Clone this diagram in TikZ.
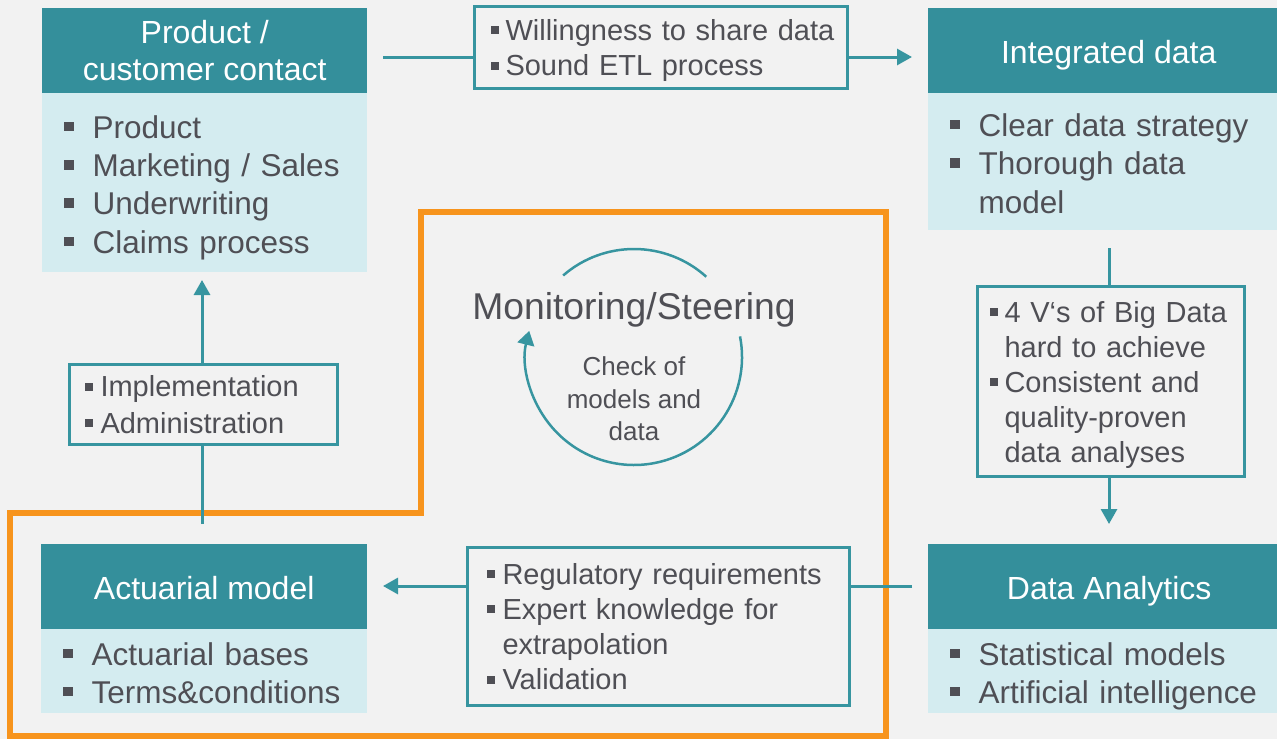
\documentclass[tikz,border=0pt]{standalone}
\usepackage{fontspec}
\setmainfont{Liberation Sans}
\usetikzlibrary{arrows.meta}
\definecolor{bg}{HTML}{F2F2F2}
\definecolor{tealh}{HTML}{348F9B}
\definecolor{lightc}{HTML}{D4ECF0}
\definecolor{tline}{HTML}{3795A0}
\definecolor{txt}{HTML}{4F4F55}
\definecolor{orng}{HTML}{F7941D}
\newcommand{\bbul}{\makebox[28.5pt][l]{\raisebox{7pt}{\rule{9.5pt}{9.5pt}}}}
\newcommand{\bi}[1]{\mbox{\bbul#1}}
\newcommand{\bcont}[1]{\mbox{\hspace*{28.5pt}#1}}
\newcommand{\sbul}[1]{\makebox[#1][l]{\raisebox{6pt}{\rule{8pt}{8pt}}}}
\newcommand{\topst}[1]{\rule{0pt}{#1}}
\newcommand{\botst}[1]{\rule[-#1]{0pt}{0pt}}
\begin{document}
\begin{tikzpicture}[x=1pt,y=1pt,
  head/.style={fill=tealh, text=white, font=\fontsize{32}{37}\selectfont, align=center,
    inner sep=0pt, minimum height=85pt, anchor=north west},
  body/.style={fill=lightc, text=txt, font=\fontsize{31.5}{38.3}\selectfont, align=left,
    inner xsep=22pt, inner ysep=0pt, anchor=north west},
  sbox/.style={draw=tline, line width=3pt, fill=bg, text=txt, font=\fontsize{29}{35.2}\selectfont,
    align=left, inner ysep=0pt, anchor=north west},
  conn/.style={draw=tline, line width=3pt},
  arr/.style={conn, -{Triangle[length=15pt,width=16pt]}},
  plain/.style={text=txt, align=center, inner sep=0pt}]
\useasboundingbox (0,0) rectangle (1277,-739);
\fill[bg] (0,0) rectangle (1277,-739);

% big boxes
\node[head, minimum width=325pt] (ph) at (42,-8) {Product /\\customer contact};
\node[body, minimum height=179pt, text width=281pt] (pb) at (42,-93)
  {\topst{33pt}\bi{Product}\\\bi{Marketing / Sales}\\\bi{Underwriting}\\\bi{Claims process}\botst{7pt}};

\node[head, minimum width=349pt] (ih) at (928,-8) {\hspace*{12pt}\topst{33pt}Integrated data\botst{7pt}};
\node[body, minimum height=137pt, text width=305pt] (ib) at (928,-93)
  {\topst{33pt}\bi{Clear data strategy}\\\bi{Thorough data}\\\bcont{model}\botst{7pt}};

\node[head, minimum width=349pt] (dh) at (928,-544) {\hspace*{13pt}\topst{33pt}Data Analytics\botst{7pt}};
\node[body, minimum height=84pt, text width=305pt] (db) at (928,-629)
  {\topst{33pt}\bi{Statistical models}\\\bi{Artificial intelligence}\botst{7pt}};

\node[head, minimum width=326pt] (ah) at (41,-544) {\topst{33pt}Actuarial model\botst{7pt}};
\node[body, minimum height=84pt, text width=282pt] (ab) at (41,-629)
  {\topst{33pt}\bi{Actuarial bases}\\\bi{Terms\&conditions}\botst{7pt}};

% small boxes
\node[sbox, minimum width=373pt, minimum height=82pt, inner xsep=16pt, text width=341pt] (ws) at (473,-5)
  {\topst{27pt}\mbox{\sbul{15pt}Willingness to share data}\\\mbox{\sbul{15pt}Sound ETL process}\botst{6pt}};
\node[sbox, minimum width=267pt, minimum height=190pt, inner xsep=12pt, text width=243pt] (vb) at (976,-285)
  {\topst{28pt}\mbox{\sbul{15pt}4 V‘s of Big Data}\\\mbox{\hspace*{15pt}hard to achieve}\\\mbox{\sbul{15pt}Consistent and}\\\mbox{\hspace*{15pt}quality-proven}\\\mbox{\hspace*{15pt}data analyses}\botst{6pt}};
\node[sbox, minimum width=382pt, minimum height=158pt, inner xsep=19pt, text width=344pt] (rr) at (466,-546)
  {\mbox{\sbul{16pt}Regulatory requirements}\\\mbox{\sbul{16pt}Expert knowledge for}\\\mbox{\hspace*{16pt}extrapolation}\\\mbox{\sbul{16pt}Validation}};
\node[sbox, minimum width=268pt, minimum height=80pt, inner xsep=15pt, text width=238pt,
  font=\fontsize{29}{36.5}\selectfont] (im) at (68,-363)
  {\mbox{\sbul{16pt}Implementation}\\\mbox{\sbul{16pt}Administration}};

% orange frame
\draw[orng, line width=6pt, line join=miter] (421,-212) -- (886,-212) -- (886,-736) -- (10,-736) -- (10,-513) -- (421,-513) -- cycle;

% monitoring cycle
\coordinate (mc) at (634,-357);
\draw[conn, line width=2.5pt] (mc) ++(48:108) arc[start angle=48, end angle=131, radius=108];
\draw[conn, line width=2.5pt, -{Triangle[length=14pt,width=17pt]}] (mc) ++(11:108) arc[start angle=11, end angle=-194, radius=108];
\node[plain, font=\fontsize{37.3}{42}\selectfont] (mon) at (634,-310) {Monitoring/Steering};
\node[plain, font=\fontsize{26}{32.5}\selectfont] (chk) at (634,-399) {Check of\\models and\\data};

% connectors
\coordinate (t1) at (383,-57);
\coordinate (t2) at (912,-57);
\draw[conn] (t1) -- (t1 -| ws.west);
\draw[arr] (ws.east |- t2) -- (t2);

\coordinate (r1) at (1109,-248);
\coordinate (r2) at (1109,-524);
\draw[conn] (r1) -- (r1 |- vb.north);
\draw[arr] (vb.south -| r2) -- (r2);

\coordinate (b1) at (912,-586);
\coordinate (b2) at (383,-586);
\draw[conn] (b1) -- (b1 -| rr.east);
\draw[arr] (rr.west |- b2) -- (b2);

\coordinate (l1) at (202,-524);
\coordinate (l2) at (202,-280);
\draw[conn] (l1) -- (l1 |- im.south);
\draw[arr] (im.north -| l2) -- (l2);
\end{tikzpicture}
\end{document}
